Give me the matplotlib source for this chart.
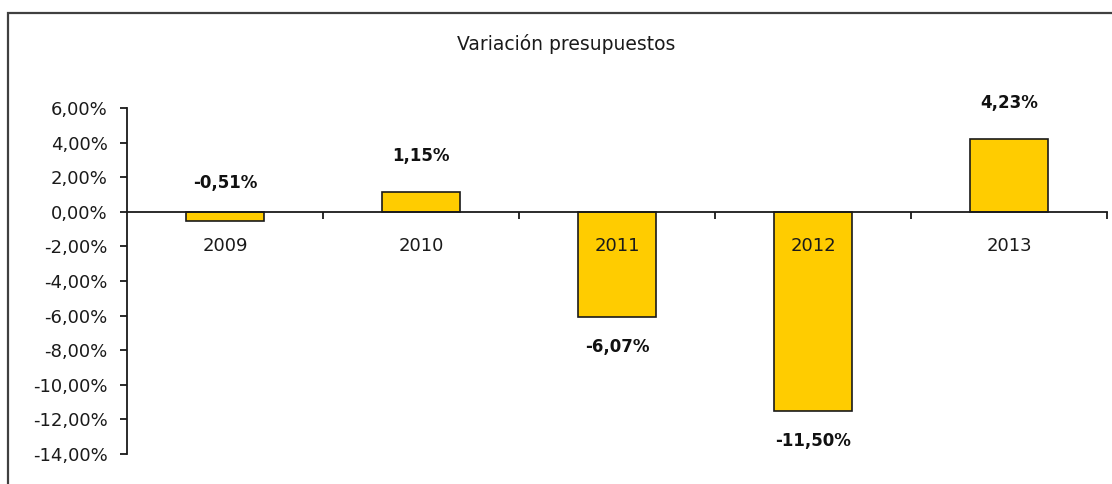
import matplotlib
matplotlib.use("Agg")
import matplotlib.pyplot as plt
from matplotlib.patches import Rectangle
from matplotlib.ticker import FixedLocator, FuncFormatter

plt.rcParams['font.family'] = ['DejaVu Sans']

years = ['2009', '2010', '2011', '2012', '2013']
values = [-0.51, 1.15, -6.07, -11.50, 4.23]
title = 'Variación presupuestos'

W, H, DPI = 1112, 484, 100
fig = plt.figure(figsize=(W / DPI, H / DPI), dpi=DPI)

# outer chart frame (cropped at right and bottom in the reference)
fig.patches.append(Rectangle((8 / W, -0.1), 1.2, (H - 13) / H + 0.1, transform=fig.transFigure,
                             fill=False, edgecolor='#404040', linewidth=1.6))

ax = fig.add_axes([127 / W, 30 / H, (1107 - 127) / W, (454 - 108) / H])
ax.set_xlim(-0.5, len(years) - 0.5)
ax.set_ylim(-14, 6)

x = list(range(len(years)))
ax.bar(x, values, width=0.4, color='#FFCC00', edgecolor='#1a1a1a', linewidth=1.2, zorder=1)

for spine in ['top', 'right']:
    ax.spines[spine].set_visible(False)
ax.spines['bottom'].set_position(('data', 0))
ax.spines['bottom'].set_bounds(-0.5, len(years) - 0.5)
ax.spines['left'].set_linewidth(1.3)
ax.spines['bottom'].set_linewidth(1.3)
ax.spines['left'].set_color('#1a1a1a')
ax.spines['bottom'].set_color('#1a1a1a')

ax.set_yticks(range(-14, 7, 2))
ax.yaxis.set_major_formatter(FuncFormatter(lambda v, p: f"{v:.2f}".replace('.', ',') + '%'))
ax.tick_params(axis='y', direction='out', length=5, width=1.3, pad=9, labelsize=13,
               color='#1a1a1a', labelcolor='#1a1a1a')

# category boundary ticks
ax.xaxis.set_major_locator(FixedLocator([i + 0.5 for i in range(len(years))]))
ax.xaxis.set_major_formatter(FuncFormatter(lambda v, p: ''))
ax.tick_params(axis='x', which='major', direction='out', length=5, width=1.3, color='#1a1a1a')
ax.xaxis.set_minor_locator(FixedLocator(x))
ax.set_xticklabels(years, minor=True)
ax.tick_params(axis='x', which='minor', length=0, pad=18, labelsize=13, labelcolor='#1a1a1a')

for xi, v in zip(x, values):
    label = f"{v:.2f}".replace('.', ',') + '%'
    kw = dict(textcoords='offset pixels', ha='center', va='center',
              fontsize=12, fontweight='bold', color='#111111')
    if v >= 0:
        ax.annotate(label, (xi, v), xytext=(0, 36), **kw)
    elif v > -1:
        ax.annotate(label, (xi, 0), xytext=(0, 29), **kw)
    else:
        ax.annotate(label, (xi, v), xytext=(0, -30), **kw)

fig.text(566 / W, 1 - 44 / H, title, ha='center', va='center', fontsize=13.5, color='#1a1a1a')

fig.savefig('out.png', dpi=DPI)
